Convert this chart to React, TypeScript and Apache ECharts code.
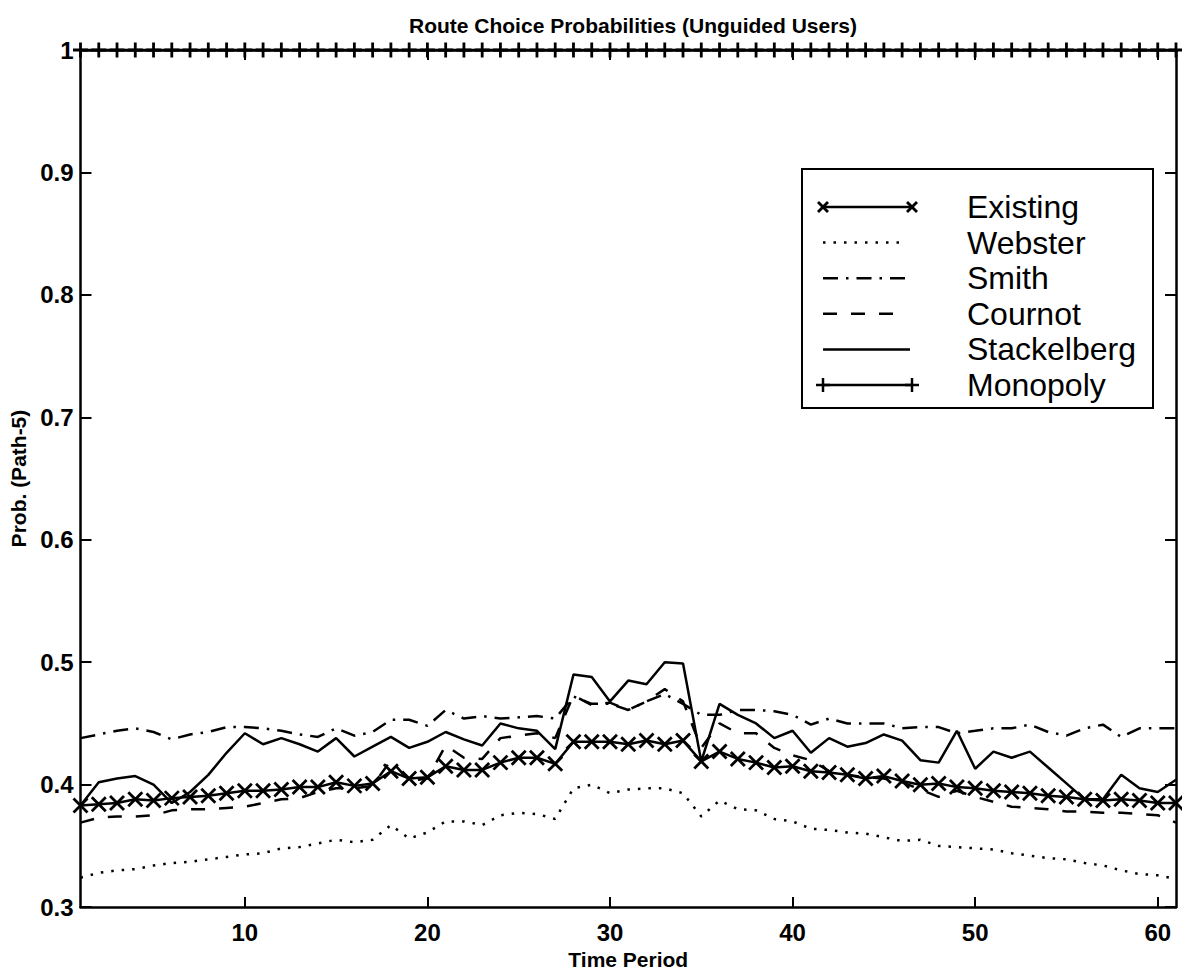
import React, { useEffect, useRef } from "react";
import * as echarts from "echarts";

// ---------- data ----------
const periods = [
  1, 2, 3, 4, 5, 6, 7, 8, 9, 10, 11, 12, 13, 14, 15, 16, 17, 18, 19, 20,
  21, 22, 23, 24, 25, 26, 27, 28, 29, 30, 31, 32, 33, 34, 35, 36, 37, 38, 39, 40,
  41, 42, 43, 44, 45, 46, 47, 48, 49, 50, 51, 52, 53, 54, 55, 56, 57, 58, 59, 60, 61,
];

const existing = [
  0.383, 0.384, 0.385, 0.388, 0.387, 0.389, 0.39, 0.391, 0.393, 0.395,
  0.395, 0.396, 0.398, 0.398, 0.402, 0.399, 0.401, 0.411, 0.405, 0.406,
  0.415, 0.412, 0.412, 0.418, 0.422, 0.422, 0.417, 0.435, 0.435, 0.435,
  0.433, 0.436, 0.433, 0.436, 0.419, 0.427, 0.421, 0.418, 0.414, 0.415,
  0.411, 0.41, 0.408, 0.405, 0.407, 0.403, 0.4, 0.401, 0.398, 0.397,
  0.395, 0.394, 0.393, 0.391, 0.39, 0.388, 0.387, 0.388, 0.387, 0.385, 0.385,
];

const webster = [
  0.324, 0.328, 0.33, 0.331, 0.334, 0.336, 0.337, 0.339, 0.341, 0.343,
  0.344, 0.348, 0.349, 0.352, 0.355, 0.353, 0.355, 0.367, 0.356, 0.361,
  0.37, 0.37, 0.367, 0.375, 0.377, 0.376, 0.372, 0.397, 0.4, 0.393,
  0.396, 0.397, 0.397, 0.393, 0.374, 0.387, 0.38, 0.379, 0.372, 0.37,
  0.364, 0.363, 0.361, 0.36, 0.357, 0.354, 0.355, 0.35, 0.349, 0.348,
  0.347, 0.344, 0.342, 0.34, 0.339, 0.336, 0.334, 0.33, 0.327, 0.326, 0.323,
];

const smith = [
  0.438, 0.441, 0.444, 0.446, 0.443, 0.437, 0.441, 0.443, 0.447, 0.447,
  0.446, 0.444, 0.441, 0.439, 0.446, 0.44, 0.443, 0.453, 0.453, 0.448,
  0.461, 0.454, 0.456, 0.454, 0.455, 0.456, 0.454, 0.472, 0.466, 0.466,
  0.461, 0.468, 0.474, 0.466, 0.457, 0.457, 0.461, 0.461, 0.46, 0.457,
  0.449, 0.454, 0.45, 0.45, 0.45, 0.446, 0.447, 0.447, 0.442, 0.444,
  0.446, 0.446, 0.449, 0.443, 0.44, 0.446, 0.449, 0.439, 0.446, 0.446, 0.446,
];

const cournot = [
  0.369, 0.373, 0.374, 0.374, 0.375, 0.379, 0.38, 0.38, 0.381, 0.382,
  0.385, 0.388, 0.389, 0.394, 0.397, 0.397, 0.399, 0.42, 0.403, 0.405,
  0.432, 0.422, 0.421, 0.438, 0.44, 0.442, 0.438, 0.473, 0.465, 0.467,
  0.461, 0.468, 0.478, 0.468, 0.43, 0.45, 0.442, 0.442, 0.43, 0.424,
  0.42, 0.411, 0.408, 0.406, 0.405, 0.402, 0.396, 0.39, 0.395, 0.39,
  0.386, 0.382, 0.381, 0.38, 0.378, 0.378, 0.377, 0.377, 0.376, 0.375, 0.369,
];

const stackelberg = [
  0.383, 0.402, 0.405, 0.407, 0.4, 0.385, 0.394, 0.408, 0.426, 0.442,
  0.433, 0.438, 0.433, 0.427, 0.438, 0.423, 0.431, 0.439, 0.43, 0.435,
  0.443, 0.437, 0.432, 0.45, 0.446, 0.444, 0.429, 0.49, 0.488, 0.468,
  0.485, 0.482, 0.5, 0.499, 0.419, 0.466, 0.457, 0.45, 0.438, 0.444,
  0.426, 0.438, 0.431, 0.434, 0.441, 0.436, 0.42, 0.418, 0.444, 0.413,
  0.427, 0.422, 0.427, 0.414, 0.401, 0.388, 0.388, 0.408, 0.397, 0.394, 0.404,
];

const monopoly = [
  1, 1, 1, 1, 1, 1, 1, 1, 1, 1, 1, 1, 1, 1, 1, 1, 1, 1, 1, 1,
  1, 1, 1, 1, 1, 1, 1, 1, 1, 1, 1, 1, 1, 1, 1, 1, 1, 1, 1, 1,
  1, 1, 1, 1, 1, 1, 1, 1, 1, 1, 1, 1, 1, 1, 1, 1, 1, 1, 1, 1, 1,
];

const seriesNames = ["Existing", "Webster", "Smith", "Cournot", "Stackelberg", "Monopoly"];
const xTicks = [10, 20, 30, 40, 50, 60];
const yTicks = [0.3, 0.4, 0.5, 0.6, 0.7, 0.8, 0.9, 1];

const titleText = "Route Choice Probabilities (Unguided Users)";
const xName = "Time Period";
const yName = "Prob. (Path-5)";

// ---------- styles ----------
const FONT = '"Liberation Sans", Arial, Helvetica, sans-serif';
const INK = "#000";
const X_SYMBOL = "path://M0,0L10,10M10,0L0,10";
const PLUS_SYMBOL = "path://M5,0L5,10M0,5L10,5";
const DOT = [2.5, 8];
const DASHDOT = [15, 8, 2.5, 8];
const DASH = [14, 14];

const pairs = (vals: number[]) => periods.map((p, i) => [p, vals[i]]);

export default function App() {
  const ref = useRef<HTMLDivElement>(null);

  useEffect(() => {
    if (!ref.current) return;
    const chart = echarts.init(ref.current, undefined, { renderer: "svg" });

    const lineSeries = (
      name: string,
      vals: number[],
      type: any,
      symbol: string,
      extra: any = {}
    ) => ({
      name,
      type: "line",
      data: pairs(vals),
      xAxisIndex: 0,
      yAxisIndex: 0,
      symbol,
      symbolSize: 14,
      showSymbol: symbol !== "none",
      lineStyle: { color: INK, width: 2.5, type },
      itemStyle: { color: INK, borderColor: INK, borderWidth: 2.8 },
      emphasis: { disabled: true },
      ...extra,
    });

    // legend drawn as graphic
    const lgLeft = 802;
    const lgTop = 169;
    const lgRight = 1153;
    const lgBottom = 408;
    const rowY0 = 207;
    const rowGap = 35.6;
    const lx1 = 823;
    const lineEnds = [912, 902, 910, 898, 910, 912];
    const dashes: any[] = [null, DOT, DASHDOT, DASH, null, null];
    const graphics: any[] = [
      {
        type: "rect",
        shape: { x: lgLeft, y: lgTop, width: lgRight - lgLeft, height: lgBottom - lgTop },
        style: { fill: "#fff", stroke: INK, lineWidth: 2 },
        z: 100,
      },
    ];
    const seg = (x1: number, y1: number, x2: number, y2: number, w = 2.5) => ({
      type: "line",
      shape: { x1, y1, x2, y2 },
      style: { stroke: INK, lineWidth: w },
      z: 101,
    });
    seriesNames.forEach((name, i) => {
      const y = rowY0 + i * rowGap;
      graphics.push({
        type: "line",
        shape: { x1: lx1, y1: y, x2: lineEnds[i], y2: y },
        style: { stroke: INK, lineWidth: 2.5, lineDash: dashes[i] || undefined },
        z: 101,
      });
      if (i === 0) {
        [lx1, lineEnds[i]].forEach((cx) => {
          graphics.push(seg(cx - 5, y - 5, cx + 5, y + 5, 2.8));
          graphics.push(seg(cx - 5, y + 5, cx + 5, y - 5, 2.8));
        });
      }
      if (i === 5) {
        [lx1, lineEnds[i]].forEach((cx) => {
          graphics.push(seg(cx, y - 7, cx, y + 7, 2.5));
          graphics.push(seg(cx - 7, y, cx + 7, y, 2.5));
        });
      }
      graphics.push({
        type: "text",
        x: 967,
        y,
        style: {
          text: name,
          fontSize: 32,
          fontFamily: FONT,
          fill: INK,
          verticalAlign: "middle",
          align: "left",
        },
        z: 101,
      });
    });

    const baseAxisLine = { show: true, onZero: false, lineStyle: { color: INK, width: 2.5 } };
    const labelStyle = { fontSize: 24, fontWeight: "bold", color: INK, fontFamily: FONT };
    const nameStyle = {
      fontSize: 21,
      fontWeight: "bold",
      color: INK,
      fontFamily: FONT,
      verticalAlign: "middle",
    };

    chart.setOption({
      animation: false,
      backgroundColor: "#fff",
      title: {
        text: titleText,
        left: 628,
        top: 10,
        textAlign: "center",
        textStyle: { fontSize: 21, fontWeight: "bold", color: INK, fontFamily: FONT },
      },
      grid: { left: 80, top: 50, right: 6, bottom: 67.5, containLabel: false },
      xAxis: [
        {
          type: "value",
          min: 1,
          max: 61,
          position: "bottom",
          axisLine: baseAxisLine,
          axisTick: {
            show: true,
            inside: true,
            length: 10,
            customValues: xTicks,
            lineStyle: { color: INK, width: 2 },
          },
          axisLabel: { customValues: xTicks, margin: 13, ...labelStyle },
          splitLine: { show: false },
          name: xName,
          nameLocation: "middle",
          nameGap: 50,
          nameTextStyle: nameStyle,
        },
        {
          type: "value",
          min: 1,
          max: 61,
          position: "top",
          axisLine: baseAxisLine,
          axisTick: {
            show: true,
            inside: true,
            length: 10,
            customValues: xTicks,
            lineStyle: { color: INK, width: 2 },
          },
          axisLabel: { show: false },
          splitLine: { show: false },
        },
      ],
      yAxis: [
        {
          type: "value",
          min: 0.3,
          max: 1,
          position: "left",
          axisLine: baseAxisLine,
          axisTick: {
            show: true,
            inside: true,
            length: 11,
            customValues: yTicks,
            lineStyle: { color: INK, width: 2 },
          },
          axisLabel: {
            customValues: yTicks,
            margin: 7,
            ...labelStyle,
            formatter: (v: number) => (Math.abs(v - 1) < 1e-9 ? "1" : v.toFixed(1)),
          },
          splitLine: { show: false },
          name: yName,
          nameLocation: "middle",
          nameGap: 62,
          nameTextStyle: nameStyle,
        },
        {
          type: "value",
          min: 0.3,
          max: 1,
          position: "right",
          axisLine: baseAxisLine,
          axisTick: {
            show: true,
            inside: true,
            length: 11,
            customValues: yTicks,
            lineStyle: { color: INK, width: 2 },
          },
          axisLabel: { show: false },
          splitLine: { show: false },
        },
      ],
      series: [
        lineSeries(seriesNames[1], webster, DOT, "none"),
        lineSeries(seriesNames[2], smith, DASHDOT, "none"),
        lineSeries(seriesNames[3], cournot, DASH, "none"),
        lineSeries(seriesNames[4], stackelberg, "solid", "none"),
        lineSeries(seriesNames[0], existing, "solid", X_SYMBOL, { z: 5 }),
        lineSeries(seriesNames[5], monopoly, "solid", PLUS_SYMBOL, {
          clip: false,
          symbolSize: 15,
          z: 6,
        }),
      ],
      graphic: graphics,
    });

    return () => chart.dispose();
  }, []);

  return (
    <div
      ref={ref}
      style={{ position: "fixed", left: 0, top: 0, width: 1182, height: 975, background: "#fff" }}
    />
  );
}
